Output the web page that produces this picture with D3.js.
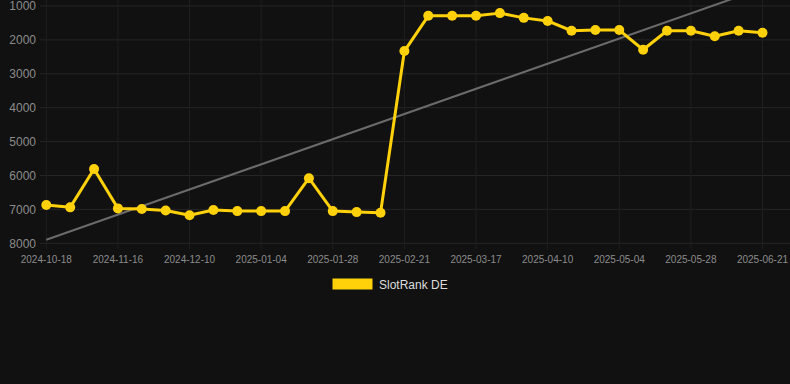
<!DOCTYPE html>
<html>
<head>
<meta charset="utf-8">
<script src="https://cdn.jsdelivr.net/npm/d3@7"></script>
<style>
  html, body { margin: 0; padding: 0; background: #111111; }
  svg { display: block; font-family: "Liberation Sans", Arial, sans-serif; }
</style>
</head>
<body>
<svg width="790" height="384"></svg>
<script>
// categories (every 3rd one gets a label)
const dates = [
  "2024-10-18", "2024-10-27", "2024-11-06", "2024-11-16", "2024-11-24", "2024-12-02",
  "2024-12-10", "2024-12-18", "2024-12-27", "2025-01-04", "2025-01-12", "2025-01-20",
  "2025-01-28", "2025-02-05", "2025-02-13", "2025-02-21", "2025-03-01", "2025-03-09",
  "2025-03-17", "2025-03-25", "2025-04-02", "2025-04-10", "2025-04-18", "2025-04-26",
  "2025-05-04", "2025-05-12", "2025-05-20", "2025-05-28", "2025-06-05", "2025-06-13",
  "2025-06-21"
];
const ranks = [
  6870, 6940, 5810, 6970, 6990, 7030, 7170, 7020, 7050, 7050, 7050, 6080,
  7050, 7080, 7100, 2330, 1290, 1290, 1290, 1210, 1350, 1440, 1730, 1710,
  1710, 2290, 1730, 1730, 1890, 1730, 1790
];
const yTicks = [1000, 2000, 3000, 4000, 5000, 6000, 7000, 8000];
const seriesName = "SlotRank DE";

const svg = d3.select("svg");
const plot = { left: 40, right: 790, top: 0, bottom: 243.3 };

const x = d3.scalePoint().domain(d3.range(dates.length)).range([46.3, 762.5]);
const y = d3.scaleLinear().domain([1000, 8000]).range([6, 243.3]);

svg.append("defs").append("clipPath").attr("id", "clip")
  .append("rect")
  .attr("x", plot.left).attr("y", plot.top)
  .attr("width", plot.right - plot.left).attr("height", plot.bottom - plot.top + 6);

// horizontal grid + y labels
const yAxis = svg.append("g");
yAxis.selectAll("line").data(yTicks).join("line")
  .attr("x1", plot.left).attr("x2", plot.right)
  .attr("y1", d => y(d)).attr("y2", d => y(d))
  .attr("stroke", "#262626").attr("stroke-width", 1);
yAxis.selectAll("text").data(yTicks).join("text")
  .attr("x", 36).attr("y", d => y(d))
  .attr("dy", "0.35em")
  .attr("text-anchor", "end")
  .attr("fill", "#8c8c8c")
  .attr("font-size", 12)
  .text(d => d);

// vertical grid at labelled categories + x labels
const labelled = d3.range(0, dates.length, 3);
const xAxis = svg.append("g");
xAxis.selectAll("line").data(labelled).join("line")
  .attr("x1", d => x(d)).attr("x2", d => x(d))
  .attr("y1", plot.top).attr("y2", plot.bottom + 6)
  .attr("stroke", "#1f1f1f").attr("stroke-width", 1);
xAxis.selectAll("text").data(labelled).join("text")
  .attr("x", d => x(d)).attr("y", 259)
  .attr("dy", "0.35em")
  .attr("text-anchor", "middle")
  .attr("fill", "#8c8c8c")
  .attr("font-size", 10)
  .text(d => dates[d]);

// linear regression trend line
const n = ranks.length;
const mx = d3.mean(d3.range(n));
const my = d3.mean(ranks);
const slope = d3.sum(ranks, (v, i) => (i - mx) * (v - my)) / d3.sum(d3.range(n), i => (i - mx) ** 2);
const icpt = my - slope * mx;
svg.append("line")
  .attr("clip-path", "url(#clip)")
  .attr("x1", x(0)).attr("y1", y(icpt))
  .attr("x2", x(n - 1)).attr("y2", y(icpt + slope * (n - 1)))
  .attr("stroke", "#6b6b6b").attr("stroke-width", 2);

// series line and points
const line = d3.line().x((d, i) => x(i)).y(d => y(d));
svg.append("path")
  .attr("d", line(ranks))
  .attr("fill", "none")
  .attr("stroke", "#FFD10A")
  .attr("stroke-width", 3)
  .attr("stroke-linejoin", "round");
svg.append("g").selectAll("circle").data(ranks).join("circle")
  .attr("cx", (d, i) => x(i)).attr("cy", d => y(d))
  .attr("r", 5)
  .attr("fill", "#FFD10A");

// legend
const legend = svg.append("g");
legend.append("rect")
  .attr("x", 332.5).attr("y", 278.5).attr("width", 40).attr("height", 11)
  .attr("fill", "#FFD10A");
legend.append("text")
  .attr("x", 379).attr("y", 284.5).attr("dy", "0.35em")
  .attr("fill", "#dddddd").attr("font-size", 12)
  .text(seriesName);
</script>
</body>
</html>
